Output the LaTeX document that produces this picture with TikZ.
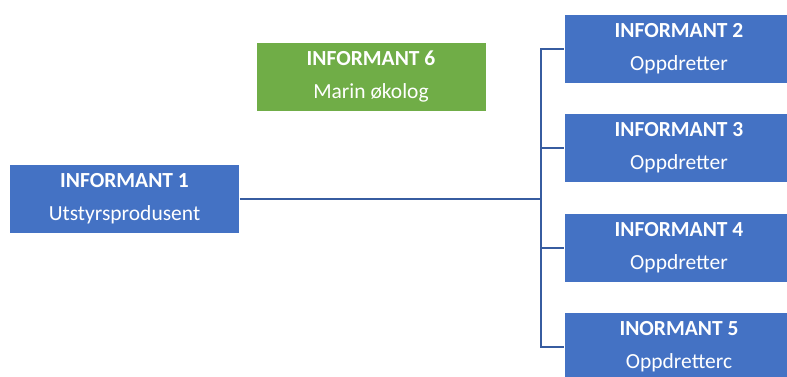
\documentclass[tikz,border=0pt]{standalone}
\usepackage{fontspec}
\setmainfont{Carlito}
\usepackage{tikz}
\definecolor{infoblue}{RGB}{68,114,196}
\definecolor{infogreen}{RGB}{112,173,71}
\definecolor{linkblue}{RGB}{55,92,160}
\tikzset{
  infobox/.style={draw=white,line width=0.8pt,fill=infoblue,text=white,
    minimum width=230pt,minimum height=69pt,inner sep=0pt,align=center,
    font=\fontsize{21.5}{33}\selectfont},
  link/.style={linkblue,line width=2pt}
}

\begin{document}
\begin{tikzpicture}[x=1pt,y=-1pt]
\useasboundingbox (0,0) rectangle (787,376);
\clip (0,0) rectangle (787,376);
\node[infobox] (inf1) at (124.5,198.5) {\textbf{INFORMANT 1}\\Utstyrsprodusent};
\node[infobox] (inf2) at (679,49) {\textbf{INFORMANT 2}\\Oppdretter};
\node[infobox] (inf3) at (679,148) {\textbf{INFORMANT 3}\\Oppdretter};
\node[infobox] (inf4) at (679,247.5) {\textbf{INFORMANT 4}\\Oppdretter};
\node[infobox] (inf5) at (679,347) {\textbf{INORMANT 5}\\Oppdretterc};
\node[infobox,fill=infogreen] (inf6) at (371,76.5) {\textbf{INFORMANT 6}\\Marin økolog};
% connectors
\coordinate (split) at (541,198.5);
\draw[link] (inf1.east) -- (split);
\foreach \i in {2,...,5}
  \draw[link] (split) |- (inf\i.west);
\end{tikzpicture}
\end{document}
